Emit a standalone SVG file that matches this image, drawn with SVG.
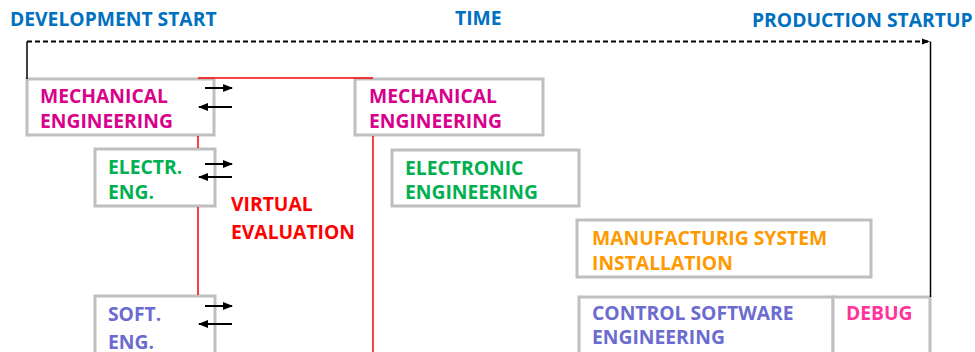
<svg xmlns="http://www.w3.org/2000/svg" width="975" height="352" viewBox="0 0 975 352">
<style>
text{font-family:"Open Sans","Liberation Sans",sans-serif;font-weight:bold;font-size:19.3px}
.box{fill:#fff;stroke:#BFBFBF;stroke-width:3}
.title{fill:#0070C0}
.mech{fill:#D9008C}
.elec{fill:#00B050}
.soft{fill:#6B6BD0}
.manu{fill:#FF9900}
.dbg{fill:#FF3399}
.virt{fill:#FF0000}
.red{stroke:#FF0000;stroke-width:1.5;fill:none}
.blk{stroke:#000;stroke-width:1.5;fill:none}
.arr{stroke:#000;stroke-width:2;fill:none;marker-end:url(#ah)}
</style>
<defs>
<marker id="ah" viewBox="0 0 10 10" refX="9" refY="5" markerWidth="10" markerHeight="10" orient="auto" markerUnits="userSpaceOnUse"><path d="M0,1L10,5L0,9z" fill="#000"/></marker>
<marker id="ah2" viewBox="0 0 10 10" refX="9" refY="5" markerWidth="8" markerHeight="8" orient="auto" markerUnits="userSpaceOnUse"><path d="M0,1L10,5L0,9z" fill="#000"/></marker>
</defs>
<g id="titles">
<text class="title" x="10" y="26">DEVELOPMENT START</text>
<text class="title" x="455" y="25">TIME</text>
<text class="title" x="752" y="27">PRODUCTION STARTUP</text>
</g>
<g id="mech1">
<rect class="box" x="27" y="79" width="187" height="56"/>
<text class="mech" x="40" y="103">MECHANICAL</text>
<text class="mech" x="40" y="128">ENGINEERING</text>
</g>
<g id="mech2">
<rect class="box" x="355" y="79" width="188" height="56"/>
<text class="mech" x="369" y="103">MECHANICAL</text>
<text class="mech" x="369" y="128">ENGINEERING</text>
</g>
<g id="electr">
<rect class="box" x="95" y="149" width="120" height="57"/>
<text class="elec" x="108" y="174">ELECTR.</text>
<text class="elec" x="108" y="199">ENG.</text>
</g>
<g id="virtual">
<text class="virt" x="231" y="211">VIRTUAL</text>
<text class="virt" x="231" y="239">EVALUATION</text>
</g>
<g id="electronic">
<rect class="box" x="392" y="150" width="187" height="56"/>
<text class="elec" x="405" y="175">ELECTRONIC</text>
<text class="elec" x="405" y="199">ENGINEERING</text>
</g>
<g id="soft">
<rect class="box" x="95" y="296" width="120" height="70"/>
<text class="soft" x="108" y="321">SOFT.</text>
<text class="soft" x="108" y="349">ENG.</text>
</g>
<g id="manufacturing">
<rect class="box" x="577" y="220" width="294" height="57"/>
<text class="manu" x="592" y="245">MANUFACTURIG SYSTEM</text>
<text class="manu" x="592" y="270">INSTALLATION</text>
</g>
<g id="control">
<rect class="box" x="579" y="297" width="254" height="70"/>
<text class="soft" x="592" y="320">CONTROL SOFTWARE</text>
<text class="soft" x="592" y="344">ENGINEERING</text>
</g>
<g id="debug">
<rect class="box" x="833" y="297" width="97" height="70"/>
<text class="dbg" x="846" y="320">DEBUG</text>
</g>
<g id="connectors">
<path class="blk" d="M27,79V41.5"/>
<path d="M27,41.5H929" stroke="#000" stroke-width="2" fill="none" stroke-dasharray="5,3" marker-end="url(#ah2)"/>
<path class="blk" d="M930.5,297V41.5"/>
<path class="red" d="M198,78H373"/>
<path class="red" d="M198,136V148M198,207V295"/>
<path class="red" d="M373,136V352"/>
<path class="arr" d="M205,88H232"/>
<path class="arr" d="M232,107H199"/>
<path class="arr" d="M205,164H232"/>
<path class="arr" d="M232,177H199"/>
<path class="arr" d="M205,306H232"/>
<path class="arr" d="M232,324H199"/>
</g>
</svg>
